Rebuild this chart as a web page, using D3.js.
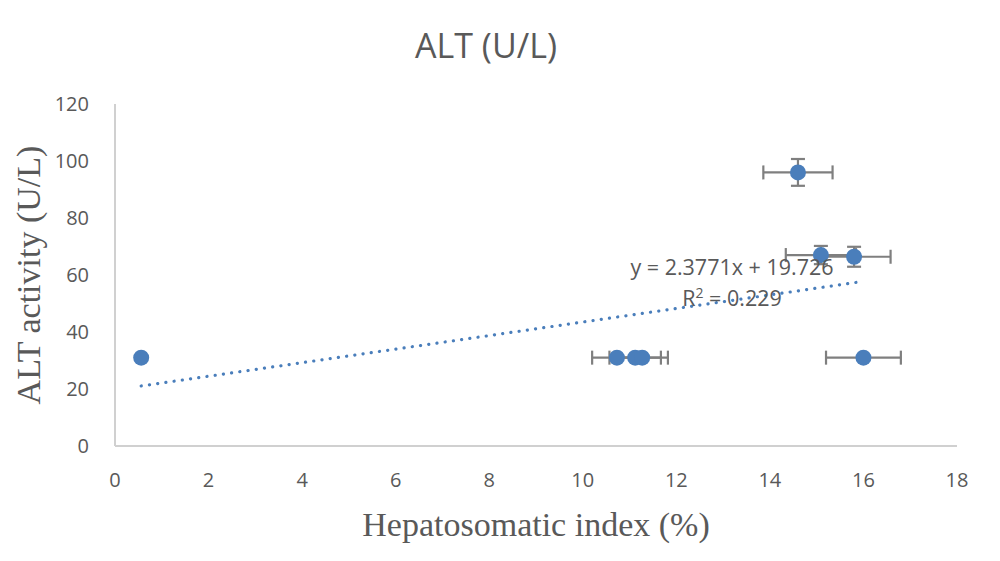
<!DOCTYPE html>
<html>
<head>
<meta charset="utf-8">
<script src="https://cdn.jsdelivr.net/npm/d3@7"></script>
<style>
  body { margin: 0; background: #fff; }
  text { fill: #595959; }
</style>
</head>
<body>
<div id="container"></div>
<script>
/** CONSTANTS AND GLOBALS */
const width = 1000,
  height = 561,
  margin = { top: 104, bottom: 115, left: 115, right: 43 };

// data
const hsi = [0.56, 10.73, 11.12, 11.27, 14.6, 15.09, 15.8, 16.0];
const hsiErr = [0, 0.53, 0.55, 0.55, 0.74, 0.75, 0.78, 0.8];
const alt = [31, 31, 31, 31, 96, 67, 66.4, 31];
const altErr = [0, 0, 0, 0, 4.7, 3.2, 3.5, 0];
const xTicks = [0, 2, 4, 6, 8, 10, 12, 14, 16, 18];
const yTicks = [0, 20, 40, 60, 80, 100, 120];
const slope = 2.3771, intercept = 19.726, r2 = 0.229;

const points = hsi.map((x, i) => ({ x, y: alt[i], ex: hsiErr[i], ey: altErr[i] }));

const svg = d3.select("#container")
  .append("svg")
  .attr("width", width)
  .attr("height", height);

const x = d3.scaleLinear().domain([0, 18]).range([margin.left, width - margin.right]);
const y = d3.scaleLinear().domain([0, 120]).range([height - margin.bottom, margin.top]);

// title
svg.append("text")
  .attr("x", 486).attr("y", 58)
  .attr("text-anchor", "middle")
  .style("font-family", "'Open Sans', sans-serif")
  .style("font-size", "34px")
  .text("ALT (U/L)");

// axis lines
svg.append("line")
  .attr("x1", x(0)).attr("x2", x(0))
  .attr("y1", y(120)).attr("y2", y(0))
  .attr("stroke", "#d0d0d0").attr("stroke-width", 2);
svg.append("line")
  .attr("x1", x(0)).attr("x2", x(18))
  .attr("y1", y(0)).attr("y2", y(0))
  .attr("stroke", "#d0d0d0").attr("stroke-width", 2);

// tick labels
svg.selectAll(".ytick")
  .data(yTicks)
  .join("text")
  .attr("class", "ytick")
  .attr("x", 89)
  .attr("y", d => y(d))
  .attr("dy", "0.36em")
  .attr("text-anchor", "end")
  .style("font-family", "'Open Sans', sans-serif")
  .style("font-size", "20px")
  .text(d => d);

svg.selectAll(".xtick")
  .data(xTicks)
  .join("text")
  .attr("class", "xtick")
  .attr("x", d => x(d))
  .attr("y", 487)
  .attr("text-anchor", "middle")
  .style("font-family", "'Open Sans', sans-serif")
  .style("font-size", "20px")
  .text(d => d);

// axis titles
svg.append("text")
  .attr("x", 536).attr("y", 536)
  .attr("text-anchor", "middle")
  .style("font-family", "'Liberation Serif', serif")
  .style("font-size", "34px")
  .text("Hepatosomatic index (%)");

svg.append("text")
  .attr("transform", `translate(40, 275) rotate(-90)`)
  .attr("text-anchor", "middle")
  .style("font-family", "'Liberation Serif', serif")
  .style("font-size", "34px")
  .text("ALT activity (U/L)");

// trendline
const xMin = d3.min(hsi), xMax = d3.max(hsi);
svg.append("line")
  .attr("x1", x(xMin)).attr("y1", y(slope * xMin + intercept))
  .attr("x2", x(xMax)).attr("y2", y(slope * xMax + intercept))
  .attr("stroke", "#4a7ebb")
  .attr("stroke-width", 3.2)
  .attr("stroke-linecap", "round")
  .attr("stroke-dasharray", "0.1 8.2");

// error bars
const errG = svg.append("g")
  .attr("stroke", "#7f7f7f")
  .attr("stroke-width", 2.2)
  .attr("fill", "none");
const cap = 7;
points.filter(d => d.ex > 0).forEach(d => {
  errG.append("line")
    .attr("x1", x(d.x - d.ex)).attr("x2", x(d.x + d.ex))
    .attr("y1", y(d.y)).attr("y2", y(d.y));
  errG.append("line")
    .attr("x1", x(d.x - d.ex)).attr("x2", x(d.x - d.ex))
    .attr("y1", y(d.y) - cap).attr("y2", y(d.y) + cap);
  errG.append("line")
    .attr("x1", x(d.x + d.ex)).attr("x2", x(d.x + d.ex))
    .attr("y1", y(d.y) - cap).attr("y2", y(d.y) + cap);
});
points.filter(d => d.ey > 0).forEach(d => {
  errG.append("line")
    .attr("x1", x(d.x)).attr("x2", x(d.x))
    .attr("y1", y(d.y - d.ey)).attr("y2", y(d.y + d.ey));
  errG.append("line")
    .attr("x1", x(d.x) - cap).attr("x2", x(d.x) + cap)
    .attr("y1", y(d.y - d.ey)).attr("y2", y(d.y - d.ey));
  errG.append("line")
    .attr("x1", x(d.x) - cap).attr("x2", x(d.x) + cap)
    .attr("y1", y(d.y + d.ey)).attr("y2", y(d.y + d.ey));
});

// markers
svg.selectAll(".pt")
  .data(points)
  .join("circle")
  .attr("class", "pt")
  .attr("cx", d => x(d.x))
  .attr("cy", d => y(d.y))
  .attr("r", 8)
  .attr("fill", "#4a7ebb");

// trendline label
const eq = svg.append("text")
  .attr("x", 732).attr("y", 275)
  .attr("text-anchor", "middle")
  .style("font-family", "'Open Sans', sans-serif")
  .style("font-size", "21.5px");
eq.append("tspan").attr("x", 732).text(`y = ${slope}x + ${intercept}`);
const r = eq.append("tspan").attr("x", 732).attr("dy", 31).text("R");
r.append("tspan").attr("dy", -8).style("font-size", "14px").text("2");
r.append("tspan").attr("dy", 8).text(` = ${r2}`);
</script>
</body>
</html>
